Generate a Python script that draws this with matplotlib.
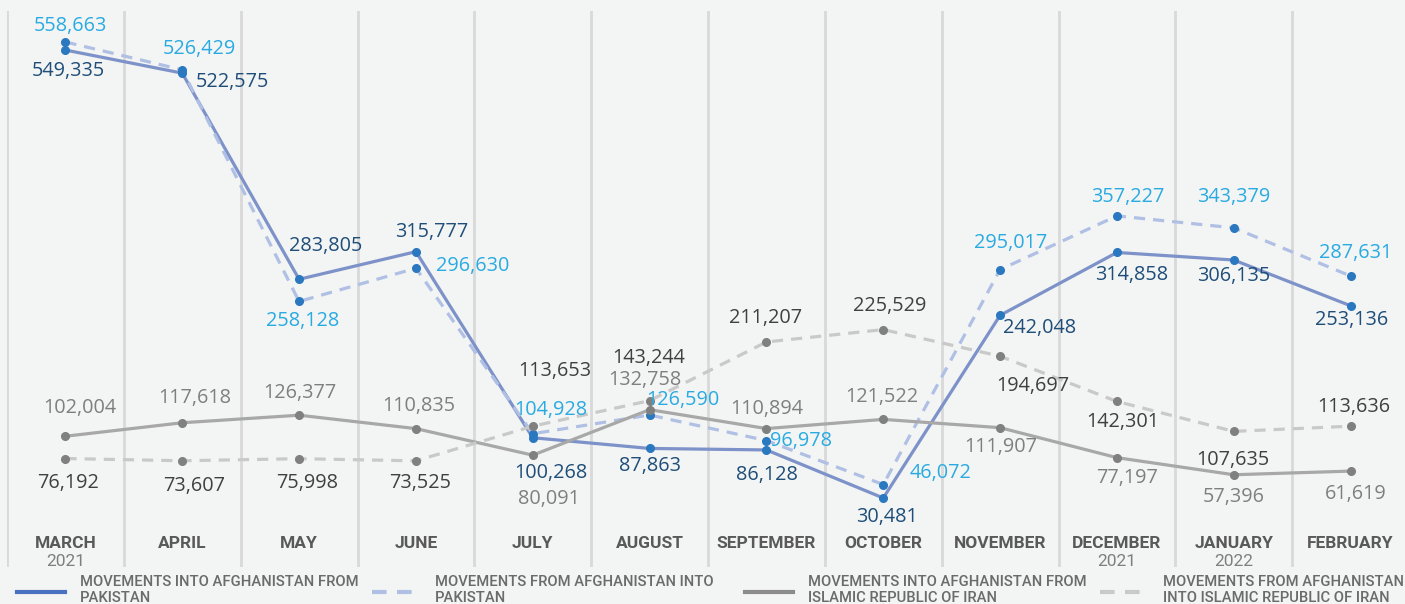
import matplotlib
matplotlib.use("Agg")
import matplotlib.pyplot as plt
from matplotlib.lines import Line2D

# data
months = ["MARCH", "APRIL", "MAY", "JUNE", "JULY", "AUGUST", "SEPTEMBER",
          "OCTOBER", "NOVEMBER", "DECEMBER", "JANUARY", "FEBRUARY"]
years = {0: "2021", 9: "2021", 10: "2022"}

into_from_pak = [549335, 522575, 283805, 315777, 100268, 87863, 86128,
                 30481, 242048, 314858, 306135, 253136]
from_into_pak = [558663, 526429, 258128, 296630, 104928, 126590, 96978,
                 46072, 295017, 357227, 343379, 287631]
into_from_iran = [102004, 117618, 126377, 110835, 80091, 132758, 110894,
                  121522, 111907, 77197, 57396, 61619]
from_into_iran = [76192, 73607, 75998, 73525, 113653, 143244, 211207,
                  225529, 194697, 142301, 107635, 113636]

legend_labels = ["MOVEMENTS INTO AFGHANISTAN FROM\nPAKISTAN",
                 "MOVEMENTS FROM AFGHANISTAN INTO\nPAKISTAN",
                 "MOVEMENTS INTO AFGHANISTAN FROM\nISLAMIC REPUBLIC OF IRAN",
                 "MOVEMENTS FROM AFGHANISTAN\nINTO ISLAMIC REPUBLIC OF IRAN"]

# label offsets in pixels (dx, dy) relative to each point, dy up
off_into_pak = [(3, -21), (50, -9), (27, 33), (16, 20), (18, -35), (0, -18),
                (1, -25), (4, -19), (39, -13), (15, -23), (0, -16), (1, -14)]
off_from_pak = [(5, 16), (17, 21), (4, -20), (57, 2), (18, 24), (33, 15),
                (35, 0), (57, 12), (11, 27), (11, 19), (0, 31), (5, 23)]
off_into_iran = [(14, 28), (12, 25), (1, 22), (3, 23), (16, -44), (-5, 30),
                 (0, 20), (-1, 22), (1, -19), (10, -20), (0, -22), (5, -23)]
off_from_iran = [(3, -24), (12, -25), (8, -24), (4, -22), (22, 55), (-1, 43),
                 (-1, 24), (6, 24), (33, -30), (6, -21), (-1, -29), (3, 19)]

bg = "#f3f4f4"
fig = plt.figure(figsize=(14.05, 6.04), dpi=100, facecolor=bg)
ax = fig.add_axes([7 / 1405, 1 - 567 / 604, 1402 / 1405, 556 / 604])
ax.set_facecolor(bg)
for s in ax.spines.values():
    s.set_visible(False)
ax.set_xticks([])
ax.set_yticks([])
ax.set_xlim(-0.5, 11.5)
ax.set_ylim(-49460, 594560)

for b in range(-1, 12):
    ax.axvline(b + 0.5, color="#d9d9d9", lw=2, zorder=0)

x = list(range(len(months)))
series = [
    (into_from_pak, "-", "#7d92c8", "#2a78c0", "#1f4e79", off_into_pak),
    (from_into_pak, (0, (3.5, 2.5)), "#b0c0e4", "#2a78c0", "#29abe2", off_from_pak),
    (into_from_iran, "-", "#a8a8a8", "#808080", "#7f7f7f", off_into_iran),
    (from_into_iran, (0, (3.5, 2.5)), "#c9c9c9", "#808080", "#404040", off_from_iran),
]
legend_colors = ["#4a70c0", "#b0c0e4", "#8c8c8c", "#c9c9c9"]
for vals, ls, lc, mc, tc, offs in series:
    ax.plot(x, vals, linestyle=ls, color=lc, lw=2.3, zorder=2)
    ax.plot(x, vals, linestyle="none", marker="o", ms=5.5, color=mc, zorder=3)
    for xi, v, (dx, dy) in zip(x, vals, offs):
        ax.annotate(f"{v:,}", (xi, v), xytext=(dx, dy), textcoords="offset pixels",
                    ha="center", va="center", color=tc, fontsize=14.3,
                    family="Open Sans", zorder=4)

for i, m in enumerate(months):
    ax.text(i, -21700, m, ha="center", va="center", fontsize=12.5,
            family="Roboto", fontweight="bold", color="#595959")
for i, yr in years.items():
    ax.text(i, -43500, yr, ha="center", va="center", fontsize=12.5,
            family="Roboto", color="#7f7f7f")

# legend along the bottom
leg_x = [17, 372, 745, 1100]
for (vals, ls, lc, mc, tc, offs), col, lab, lx in zip(series, legend_colors,
                                                      legend_labels, leg_x):
    fig.add_artist(Line2D([lx / 1405, (lx + 48) / 1405], [1 - 592 / 604] * 2,
                          linestyle=ls, color=col, lw=3))
    fig.text((lx + 63) / 1405, 1 - 575 / 604, lab, ha="left", va="top",
             fontsize=10.6, family="Roboto", fontweight="medium",
             color="#6b6b6b", linespacing=1.15)

fig.savefig("out.png", dpi=100, facecolor=bg)
